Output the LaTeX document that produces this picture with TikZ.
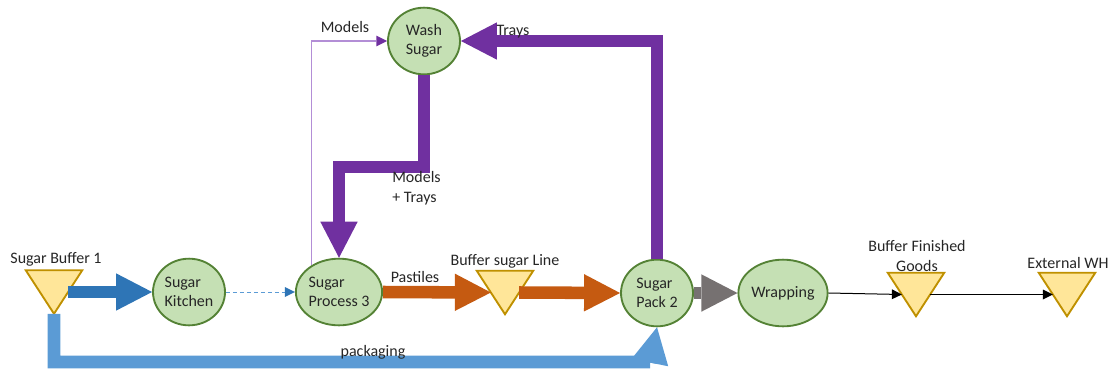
\documentclass[tikz,border=0pt]{standalone}
\usepackage{fontspec}
\setmainfont{Carlito}
\usetikzlibrary{arrows.meta,calc,shapes.geometric}
\definecolor{procfill}{HTML}{C5E0B4}
\definecolor{procdraw}{HTML}{548235}
\definecolor{buffill}{HTML}{FFE699}
\definecolor{bufdraw}{HTML}{BF9000}
\definecolor{cblue}{HTML}{2E75B6}
\definecolor{clblue}{HTML}{5B9BD5}
\definecolor{corange}{HTML}{C55A11}
\definecolor{cgray}{HTML}{767171}
\definecolor{cpurple}{HTML}{7030A0}
\definecolor{clpurple}{HTML}{B38ED6}
\definecolor{txt}{HTML}{262626}
\newcommand\bufnode[2]{%
  \node[bufbox] (#1) at #2 {};
  \draw[line width=1.4pt, draw=bufdraw, fill=buffill, line join=miter]
    (#1.north west) -- (#1.north east) -- (#1.south) -- cycle;
  \coordinate (#1-w) at ($(#1.west)!0.5!(#1.center)$);
  \coordinate (#1-e) at ($(#1.east)!0.5!(#1.center)$);
}
\begin{document}
\begin{tikzpicture}[x=0.75pt,y=-0.75pt,
  font=\fontsize{12}{14.2}\selectfont, text=txt,
  proc/.style={ellipse, draw=procdraw, line width=1.4pt, fill=procfill,
    minimum width=54pt, minimum height=50pt, inner sep=0pt, align=left},
  bufbox/.style={minimum width=42pt, minimum height=32.25pt, inner sep=0pt},
  bigarrow/.style={line width=9.4pt, -{Triangle[length=27pt,width=28pt,line width=0pt]}},
  thinarrow/.style={line width=0.75pt, -{Triangle[length=7.5pt,width=7.5pt,line width=0pt]}},
  lbl/.style={inner sep=0pt}]
\useasboundingbox (0,0) rectangle (1110,372);

% process nodes
\node[proc] (kit)  at (189,292) {Sugar\\Kitchen};
\node[proc] (sp3)  at (339,292) {Sugar\\Process 3};
\node[proc] (wash) at (424,41)  {Wash\\Sugar};
\node[proc] (pack) at (657,293) {Sugar\\Pack 2};
\node[proc] (wrap) at (783,293) {Wrapping};

% buffers
\bufnode{b1}{(54,292)}
\bufnode{bsl}{(505,292.5)}
\bufnode{bfg}{(916,294.5)}
\bufnode{ewh}{(1067,294.5)}

% connectors
\draw[bigarrow, cblue] (b1-e) -- (kit.west);
\draw[line width=0.75pt, clblue, dash pattern=on 3pt off 2.25pt,
  -{Triangle[length=7.5pt,width=7.5pt,line width=0pt,color=cblue]}] (kit.east) -- (sp3.west);
\draw[bigarrow, corange] (sp3.east) -- (bsl-w);
\draw[bigarrow, corange] (bsl-e) -- (pack.west);
\draw[bigarrow, cgray] (pack.east) -- (wrap.west);
\draw[thinarrow, black] (wrap.east) -- (bfg-w);
\draw[thinarrow, black] (bfg-e) -- (ewh-w);
\draw[line width=0.9pt, clpurple,
  -{Triangle[length=8pt,width=8pt,line width=0pt,color=cpurple]}] (sp3.136) |- (wash.west);
\coordinate (mt) at (424,167);
\draw[bigarrow, cpurple] (wash.south) -- (mt) -| (sp3.north);
\draw[bigarrow, cpurple] (pack.north) |- (wash.east);
\coordinate (pk) at (650,362);
\draw[bigarrow, clblue] (b1.south) |- (pk) -- (pack.south);

% labels
\node[lbl] (lb1) at (56,259) {Sugar Buffer 1};
\node[lbl] (lbsl) at (505,261) {Buffer sugar Line};
\node[lbl, align=center, font=\fontsize{12}{15}\selectfont] (lbfg) at (917,256) {Buffer Finished\\Goods};
\node[lbl] (lewh) at (1068,263) {External WH};
\node[lbl] (lpast) at (415,277) {Pastiles};
\node[lbl] (lpack) at (373,352) {packaging};
\node[lbl] (lmod) at (345,27) {Models};
\node[lbl, align=left, anchor=west, font=\fontsize{12}{15}\selectfont] (lmt) at (392,188) {Models\\+ Trays};
\node[lbl] (ltr) at (513,32) {Trays};
\end{tikzpicture}
\end{document}
